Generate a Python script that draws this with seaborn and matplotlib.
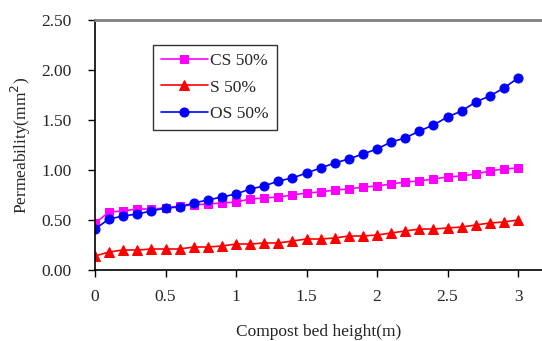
import numpy as np
import pandas as pd
import matplotlib
matplotlib.use("Agg")
import matplotlib.pyplot as plt
import seaborn as sns

# compost bed height (m), 0 to 3 in 0.1 steps
height = [0.0, 0.1, 0.2, 0.3, 0.4, 0.5, 0.6, 0.7, 0.8, 0.9, 1.0,
          1.1, 1.2, 1.3, 1.4, 1.5, 1.6, 1.7, 1.8, 1.9, 2.0,
          2.1, 2.2, 2.3, 2.4, 2.5, 2.6, 2.7, 2.8, 2.9, 3.0]

cs50 = [0.47, 0.58, 0.59, 0.61, 0.61, 0.62, 0.64, 0.65, 0.66, 0.67, 0.68,
        0.71, 0.72, 0.73, 0.75, 0.77, 0.78, 0.80, 0.81, 0.83, 0.84,
        0.86, 0.88, 0.89, 0.91, 0.93, 0.94, 0.96, 0.99, 1.01, 1.02]

s50 = [0.14, 0.18, 0.20, 0.20, 0.21, 0.21, 0.21, 0.23, 0.23, 0.24, 0.26,
       0.26, 0.27, 0.27, 0.29, 0.31, 0.31, 0.32, 0.34, 0.34, 0.35,
       0.37, 0.39, 0.41, 0.41, 0.42, 0.43, 0.45, 0.47, 0.48, 0.50]

os50 = [0.41, 0.51, 0.54, 0.56, 0.59, 0.62, 0.63, 0.67, 0.70, 0.73, 0.76,
        0.81, 0.84, 0.89, 0.92, 0.97, 1.02, 1.07, 1.11, 1.16, 1.21,
        1.28, 1.32, 1.39, 1.45, 1.53, 1.59, 1.68, 1.74, 1.82, 1.92]

series = ["CS 50%", "S 50%", "OS 50%"]
colors = ["#FF00FF", "#FF0000", "#0000FF"]
markers = ["s", "^", "o"]
msizes = [6, 7.5, 6.5]

df = pd.DataFrame({"height": height, "CS 50%": cs50, "S 50%": s50, "OS 50%": os50})

sns.set_style("white")
plt.rcParams["font.family"] = ["Liberation Serif", "DejaVu Serif"]
fs = 12.5

fig = plt.figure(figsize=(5.42, 3.41), dpi=100)
ax = fig.add_axes([95 / 542, 71 / 341, 1 - 95 / 542, 250 / 341])

for name, c, m, ms in zip(series, colors, markers, msizes):
    sns.lineplot(data=df, x="height", y=name, ax=ax, color=c, marker=m,
                 markersize=ms, markeredgecolor=c, linewidth=1.2, label=name)

ax.set_xlim(0, 3.17)
ax.set_ylim(0, 2.5)
ax.set_xticks([0, 0.5, 1, 1.5, 2, 2.5, 3])
ax.set_xticklabels(["0", "0.5", "1", "1.5", "2", "2.5", "3"])
ax.set_yticks([0, 0.5, 1.0, 1.5, 2.0, 2.5])
ax.set_yticklabels(["0.00", "0.50", "1.00", "1.50", "2.00", "2.50"])
ax.tick_params(axis="both", direction="out", length=5, width=1, labelsize=fs,
               left=True, bottom=True, color="black")
ax.tick_params(axis="y", pad=12)
ax.tick_params(axis="x", pad=9)

for side in ["left", "bottom"]:
    ax.spines[side].set_color("black")
    ax.spines[side].set_linewidth(1.2)
ax.spines["top"].set_color("#808080")
ax.spines["top"].set_linewidth(2)
ax.spines["right"].set_visible(False)

ax.set_xlabel("Compost bed height(m)", fontsize=fs, labelpad=13)
ax.set_ylabel("Permeability(mm$^2$)", fontsize=fs, labelpad=6)

leg = ax.legend(loc="upper left", bbox_to_anchor=(58 / 447, 0.9), fontsize=fs,
                frameon=True, fancybox=False, edgecolor="black",
                borderaxespad=0, handlelength=2.7, handletextpad=0.15,
                borderpad=0.45, labelspacing=0.6)
leg.get_frame().set_linewidth(1)

fig.savefig("out.png", dpi=100)
